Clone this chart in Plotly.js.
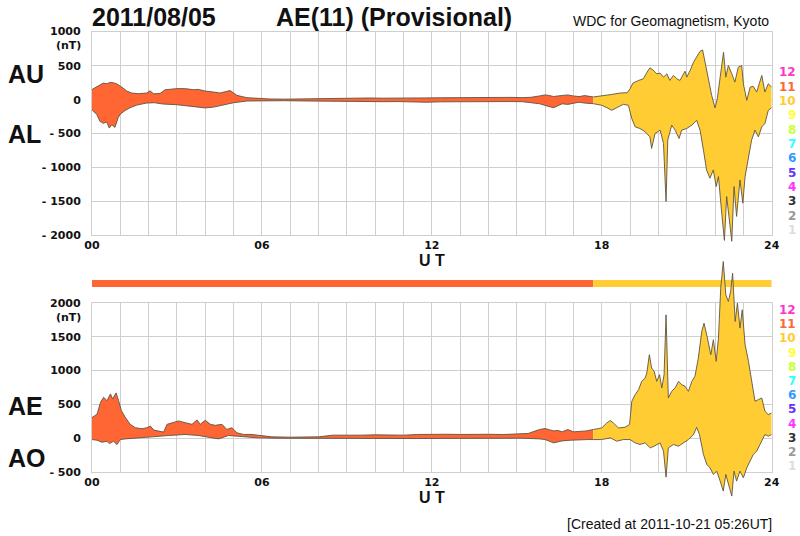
<!DOCTYPE html>
<html><head><meta charset="utf-8">
<script src="https://cdn.plot.ly/plotly-3.0.1.min.js"></script>
<style>html,body{margin:0;padding:0;background:#fff;}#chart{width:800px;height:536px;}</style>
</head><body><div id="chart"></div>
<script>
// ---------- DATA (hour UT, nT) ----------
const auPoints = [[0,150],[0.17,190],[0.4,245],[0.52,235],[0.64,255],[0.75,250],[0.87,235],[1.05,186],[1.23,127],[1.4,98],[1.64,88],[1.93,98],[2.05,130],[2.17,88],[2.4,90],[2.58,147],[2.82,158],[3.05,165],[3.35,160],[3.58,147],[3.76,152],[4.0,127],[4.29,113],[4.52,98],[4.88,135],[5.11,64],[5.47,29],[5.94,15],[6.29,10],
[6.8,8],[7.3,12],[7.8,15],[8.3,18],[8.8,20],[9.3,22],[9.8,25],[10.3,22],[10.8,20],[11.3,24],[11.8,26],[12.3,28],[12.8,30],[13.3,32],[13.8,35],[14.3,38],[14.8,34],[15.2,30],[15.5,35],[15.8,55],[16.0,70],[16.15,62],[16.3,46],[16.45,55],[16.6,60],[16.8,70],[17.0,55],[17.2,46],[17.4,60],[17.7,40],
[18.0,54],[18.3,74],[18.65,98],[18.9,103],[19.0,162],[19.1,245],[19.3,284],[19.47,309],[19.6,407],[19.7,470],[19.8,441],[19.94,382],[20.06,392],[20.18,333],[20.3,382],[20.4,284],[20.53,358],[20.65,309],[20.76,284],[20.94,421],[21.0,333],[21.12,431],[21.24,554],[21.35,627],[21.47,715],[21.56,735],[21.65,529],[21.76,284],[21.88,64],[22.0,-122],[22.08,15],[22.18,333],[22.3,700],[22.38,333],[22.47,505],[22.59,382],[22.7,260],[22.82,480],[22.94,505],[23.0,235],[23.12,-10],[23.24,186],[23.35,196],[23.47,113],[23.65,358],[23.76,113],[23.88,235],[24.0,186]];

const alPoints = [[0,-150],[0.17,-220],[0.28,-320],[0.4,-350],[0.52,-330],[0.61,-420],[0.7,-370],[0.81,-410],[0.93,-260],[1.01,-210],[1.17,-160],[1.34,-120],[1.58,-80],[1.93,-50],[2.2,-45],[2.52,-65],[3.0,-75],[3.46,-95],[3.82,-112],[4.0,-122],[4.29,-110],[4.64,-75],[5.0,-45],[5.47,-20],[5.94,-15],[6.3,-12],
[6.8,-15],[7.3,-18],[7.8,-20],[8.3,-25],[8.8,-28],[9.3,-32],[9.8,-35],[10.3,-30],[10.8,-28],[11.3,-35],[11.8,-38],[12.3,-32],[12.8,-30],[13.3,-27],[13.8,-25],[14.3,-22],[14.8,-28],[15.2,-30],[15.5,-40],[15.8,-60],[16.0,-85],[16.15,-100],[16.3,-120],[16.45,-90],[16.6,-61],[16.8,-70],[17.0,-50],[17.2,-37],[17.4,-51],[17.7,-59],
[18.0,-83],[18.18,-118],[18.35,-157],[18.53,-118],[18.76,-69],[18.94,-83],[19.06,-279],[19.18,-402],[19.35,-426],[19.53,-475],[19.7,-549],[19.76,-720],[19.88,-500],[20.06,-451],[20.18,-647],[20.27,-1505],[20.33,-598],[20.47,-377],[20.59,-451],[20.73,-574],[20.82,-451],[21.0,-426],[21.18,-377],[21.35,-304],[21.47,-451],[21.59,-745],[21.7,-1039],[21.82,-1161],[21.94,-1039],[22.04,-1284],[22.12,-1137],[22.24,-1700],[22.33,-2080],[22.41,-1431],[22.49,-1725],[22.59,-2092],[22.67,-1284],[22.76,-1725],[22.88,-1186],[22.98,-1529],[23.06,-1137],[23.18,-843],[23.29,-598],[23.41,-451],[23.53,-549],[23.65,-402],[23.76,-353],[23.88,-157],[24.0,-118]];

const aePoints = [[0,305],[0.18,355],[0.3,530],[0.41,605],[0.53,555],[0.65,655],[0.73,580],[0.85,670],[0.94,555],[1.04,405],[1.18,305],[1.35,205],[1.53,155],[1.76,140],[1.94,155],[2.06,180],[2.18,120],[2.35,105],[2.53,90],[2.65,205],[2.82,230],[3.06,255],[3.29,230],[3.53,205],[3.71,270],[3.82,205],[4.0,265],[4.18,205],[4.35,190],[4.59,205],[4.76,130],[4.94,155],[5.12,80],[5.35,55],[5.65,55],[5.88,40],[6.35,20],
[7.0,15],[7.5,18],[8.0,20],[8.5,45],[9.0,40],[9.5,45],[10.0,50],[10.5,48],[11.0,45],[11.5,55],[12.0,60],[12.5,58],[13.0,55],[13.5,60],[14.0,58],[14.5,54],[15.0,60],[15.4,70],[15.8,128],[16.0,143],[16.15,125],[16.3,108],[16.45,115],[16.6,94],[16.8,128],[17.0,94],[17.2,100],[17.45,108],[17.7,128],
[18.0,152],[18.18,226],[18.3,261],[18.41,226],[18.59,152],[18.82,162],[18.98,202],[19.06,546],[19.18,645],[19.3,718],[19.41,841],[19.53,890],[19.59,964],[19.68,1235],[19.76,1038],[19.85,989],[19.94,841],[20.04,940],[20.12,743],[20.2,940],[20.27,1825],[20.35,595],[20.47,694],[20.59,743],[20.71,841],[20.82,792],[20.94,768],[21.06,694],[21.18,841],[21.29,915],[21.41,1186],[21.53,1579],[21.61,1702],[21.73,1481],[21.85,1235],[21.94,1456],[22.04,1137],[22.12,1481],[22.2,2219],[22.29,2613],[22.38,2121],[22.47,2022],[22.55,2170],[22.62,2441],[22.71,1727],[22.79,1998],[22.88,1629],[22.96,1900],[23.06,1383],[23.18,1137],[23.29,841],[23.41,546],[23.53,571],[23.65,595],[23.76,399],[23.88,349],[24.0,374]];

const aoPoints = [[0,-20],[0.18,-30],[0.35,-60],[0.53,-45],[0.61,-80],[0.76,-45],[0.88,-95],[1.0,-20],[1.18,-10],[1.53,5],[2.12,20],[2.71,40],[3.29,55],[3.76,40],[4.12,20],[4.47,-10],[4.82,40],[5.29,20],[5.88,5],[6.5,0],
[7.5,-3],[8.5,-5],[9.5,-10],[10.5,-8],[11.5,-5],[12.5,-3],[13.5,0],[14.5,5],[15.2,0],[15.8,-10],[16.0,-20],[16.3,-69],[16.6,-40],[16.9,-30],[17.2,-20],[17.5,-20],[17.7,-20],
[18.0,-20],[18.3,5],[18.53,-44],[18.76,-20],[19.0,-20],[19.18,-69],[19.35,-93],[19.53,-69],[19.71,-143],[19.85,-118],[20.06,-69],[20.18,-192],[20.27,-576],[20.35,-143],[20.53,-93],[20.71,-118],[20.88,-69],[21.06,-20],[21.24,54],[21.35,162],[21.45,54],[21.59,-241],[21.71,-389],[21.82,-438],[21.94,-536],[22.06,-487],[22.18,-635],[22.29,-782],[22.38,-536],[22.47,-684],[22.59,-856],[22.67,-487],[22.76,-635],[22.88,-487],[23.0,-585],[23.12,-438],[23.24,-339],[23.35,-241],[23.47,-192],[23.65,-44],[23.76,54],[23.88,30],[24.0,54]];

// number of contributing stations per time segment
const segStartHours = [0, 17.7];
const segEndHours = [17.7, 24];
const segStations = [11, 10];

// station-count colour key
const stationLabels = ['12','11','10','9','8','7','6','5','4','3','2','1'];
const stationColors = ['#FF33CC','#FF6633','#FFCC33','#FFFF33','#CCFF33','#33FFFF','#3399FF','#6633FF','#FF33FF','#333333','#999999','#DDDDDD'];

const xTickVals = [0, 6, 12, 18, 24];
const xTickText = ['00', '06', '12', '18', '24'];
const topTickVals = [-2000, -1500, -1000, -500, 0, 500, 1000];
const topTickText = ['- 2000', '- 1500', '- 1000', '- 500', '0', '500', ''];
const botTickVals = [-500, 0, 500, 1000, 1500, 2000];
const botTickText = ['- 500', '0', '500', '1000', '1500', ''];

// ---------- LAYOUT HELPERS ----------
const W = 800, H = 536;
const py = p => 1 - p / H;
const xDomain = [92 / W, 771.7 / W];
const topDomain = [py(235), py(32)];
const botDomain = [py(472), py(303)];
const topRange = [-2000, 1000];
const botRange = [-500, 2000];
const GRID = '#cfcfcf';
const LINE = '#5e5444';

function colorFor(n) { return stationColors[stationLabels.indexOf(String(n))]; }
function extend(domain, range, padLow, padHigh) {
  const hpx = (domain[1] - domain[0]) * H;
  const upp = (range[1] - range[0]) / hpx;
  return { domain: [domain[0] - padLow / H, domain[1] + padHigh / H],
           range: [range[0] - padLow * upp, range[1] + padHigh * upp] };
}
function seg(points, a, b) {
  const p = points.filter(q => q[0] >= a && q[0] <= b);
  return { x: p.map(q => q[0]), y: p.map(q => q[1]) };
}

const tickFont = { family: 'DejaVu Sans', size: 11, weight: 'bold', color: '#111' };
function gridX(anchor) {
  return { domain: xDomain, range: [0, 24], anchor: anchor, tickmode: 'array', tickvals: xTickVals, ticktext: xTickText,
    showgrid: true, gridcolor: GRID, gridwidth: 1, zeroline: false, showline: true, linecolor: GRID, mirror: true,
    ticks: '', tickfont: tickFont, minor: { tick0: 0, dtick: 1, showgrid: true, gridcolor: GRID, gridwidth: 1 },
    title: { text: 'U T', font: { family: 'Liberation Sans', size: 16, weight: 'bold', color: '#111' }, standoff: 3 },
    fixedrange: true };
}
function gridY(domain, range, vals, text, anchor) {
  return { domain: domain, range: range, anchor: anchor, tickmode: 'array', tickvals: vals, ticktext: text,
    showgrid: true, gridcolor: GRID, gridwidth: 1, zeroline: false, showline: true, linecolor: GRID, mirror: true,
    ticks: '', ticklabelstandoff: 8, tickfont: tickFont, fixedrange: true };
}
function dataAxis(ext, anchor) {
  return { domain: ext.domain, range: ext.range, anchor: anchor, visible: false, showgrid: false, zeroline: false, fixedrange: true };
}

const topExt = extend(topDomain, topRange, 16, 0);
const botExt = extend(botDomain, botRange, 30, 50);

// ---------- TRACES ----------
const traces = [];
function addPanel(lowerPts, upperPts, xa, ya, names) {
  for (let i = 0; i < segStations.length; i++) {
    const c = colorFor(segStations[i]);
    const lo = seg(lowerPts, segStartHours[i], segEndHours[i]);
    const up = seg(upperPts, segStartHours[i], segEndHours[i]);
    traces.push({ type: 'scatter', mode: 'lines', x: lo.x, y: lo.y, xaxis: xa, yaxis: ya, name: names[0],
      line: { color: LINE, width: 0.9 }, hoverinfo: 'x+y', showlegend: false });
    traces.push({ type: 'scatter', mode: 'lines', x: up.x, y: up.y, xaxis: xa, yaxis: ya, name: names[1],
      line: { color: LINE, width: 0.9 }, fill: 'tonexty', fillcolor: c, hoverinfo: 'x+y', showlegend: false });
  }
}
addPanel(alPoints, auPoints, 'x3', 'y3', ['AL', 'AU']);
addPanel(aoPoints, aePoints, 'x4', 'y4', ['AO', 'AE']);

// ---------- SHAPES (station bar) ----------
const shapes = segStations.map((n, i) => ({ type: 'rect', xref: 'x2', yref: 'paper', x0: segStartHours[i], x1: segEndHours[i],
  y0: py(287), y1: py(280), fillcolor: colorFor(n), line: { width: 0 }, layer: 'below' }));

// ---------- ANNOTATIONS ----------
const ann = [];
const big = { family: 'Liberation Sans', size: 25, weight: 'bold', color: '#111' };
ann.push({ text: '2011/08/05', x: 91 / W, y: py(17), xanchor: 'left', yanchor: 'middle', font: big });
ann.push({ text: 'AE(11) (Provisional)', x: 275 / W, y: py(17), xanchor: 'left', yanchor: 'middle', font: big });
ann.push({ text: 'WDC for Geomagnetism, Kyoto', x: 770 / W, y: py(21), xanchor: 'right', yanchor: 'middle',
  font: { family: 'Liberation Sans', size: 14, color: '#111' } });
ann.push({ text: '[Created at 2011-10-21 05:26UT]', x: 773 / W, y: py(524), xanchor: 'right', yanchor: 'middle',
  font: { family: 'Liberation Sans', size: 14, color: '#111' } });
const side = { family: 'Liberation Sans', size: 25, weight: 'bold', color: '#111' };
[['AU', 73.5], ['AL', 134], ['AE', 405.5], ['AO', 457.5]].forEach(s =>
  ann.push({ text: s[0], x: 7 / W, y: py(s[1]), xanchor: 'left', yanchor: 'middle', font: side }));
ann.push({ text: '1000', x: 82 / W, y: py(32), xanchor: 'right', yanchor: 'middle', font: tickFont });
ann.push({ text: '(nT)', x: 82 / W, y: py(45), xanchor: 'right', yanchor: 'middle', font: tickFont });
ann.push({ text: '2000', x: 82 / W, y: py(303), xanchor: 'right', yanchor: 'middle', font: tickFont });
ann.push({ text: '(nT)', x: 82 / W, y: py(317), xanchor: 'right', yanchor: 'middle', font: tickFont });
stationLabels.forEach((lab, i) => {
  const f = { family: 'DejaVu Sans', size: 12, weight: 'bold', color: stationColors[i] };
  ann.push({ text: lab, x: 797 / W, y: py(72.5 + i * 14.3), xanchor: 'right', yanchor: 'middle', font: f });
  ann.push({ text: lab, x: 797 / W, y: py(310 + i * 14.2), xanchor: 'right', yanchor: 'middle', font: f });
});
ann.forEach(a => { a.xref = 'paper'; a.yref = 'paper'; a.showarrow = false; a.borderpad = 0; });

const layout = {
  width: W, height: H, margin: { l: 0, r: 0, t: 0, b: 0 },
  paper_bgcolor: '#fff', plot_bgcolor: 'rgba(0,0,0,0)', showlegend: false,
  font: { family: 'Liberation Sans', color: '#111' },
  xaxis: gridX('y'), yaxis: gridY(topDomain, topRange, topTickVals, topTickText, 'x'),
  xaxis2: gridX('y2'), yaxis2: gridY(botDomain, botRange, botTickVals, botTickText, 'x2'),
  xaxis3: { domain: xDomain, range: [0, 24], anchor: 'y3', visible: false, showgrid: false, fixedrange: true },
  yaxis3: dataAxis(topExt, 'x3'),
  xaxis4: { domain: xDomain, range: [0, 24], anchor: 'y4', visible: false, showgrid: false, fixedrange: true },
  yaxis4: dataAxis(botExt, 'x4'),
  shapes: shapes, annotations: ann
};
// placeholder traces so the grid subplots exist
traces.unshift({ type: 'scatter', x: [0], y: [0], xaxis: 'x2', yaxis: 'y2', mode: 'none', hoverinfo: 'skip', showlegend: false });
traces.unshift({ type: 'scatter', x: [0], y: [0], xaxis: 'x', yaxis: 'y', mode: 'none', hoverinfo: 'skip', showlegend: false });

Plotly.newPlot('chart', traces, layout, { displayModeBar: false, staticPlot: true });
</script></body></html>
